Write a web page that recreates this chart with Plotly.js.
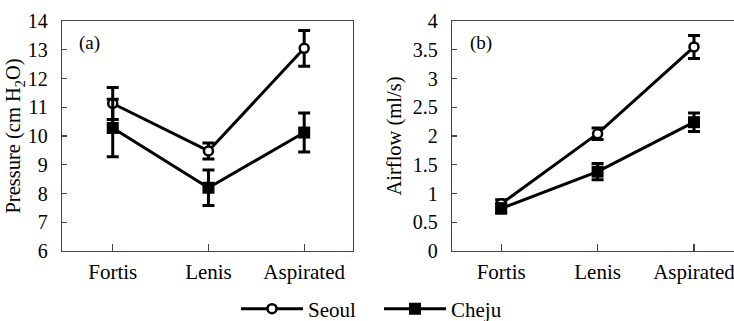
<!DOCTYPE html>
<html>
<head>
<meta charset="utf-8">
<script src="https://cdn.plot.ly/plotly-3.0.1.min.js"></script>
<style>html,body{margin:0;padding:0;background:#fff}#chart{width:734px;height:321px}</style>
</head>
<body>
<div id="chart"></div>
<script>
const categories = ["Fortis", "Lenis", "Aspirated"];
const seoulPressure = [11.13, 9.48, 13.05];
const seoulPressureErr = [0.56, 0.28, 0.62];
const chejuPressure = [10.28, 8.2, 10.12];
const chejuPressureErr = [1.0, 0.62, 0.68];
const seoulAirflow = [0.82, 2.04, 3.55];
const seoulAirflowErr = [0.07, 0.1, 0.2];
const chejuAirflow = [0.74, 1.38, 2.24];
const chejuAirflowErr = [0.08, 0.14, 0.16];
const seriesNames = ["Seoul", "Cheju"];
const panelLabels = ["(a)", "(b)"];

const FONT = "Liberation Serif, Times New Roman, serif";
const seoulStyle = {
  mode: "lines+markers",
  line: {color: "#000", width: 3},
  marker: {symbol: "circle", size: 9, color: "#fff", line: {color: "#000", width: 2.5}}
};
const chejuStyle = {
  mode: "lines+markers",
  line: {color: "#000", width: 3},
  marker: {symbol: "square", size: 12, color: "#000", line: {color: "#000", width: 0}}
};
function err(arr) {
  return {type: "data", array: arr, visible: true, color: "#000", thickness: 3, width: 6};
}
const traces = [
  Object.assign({x: categories, y: seoulPressure, error_y: err(seoulPressureErr), name: seriesNames[0], xaxis: "x", yaxis: "y", legendgroup: "s"}, seoulStyle),
  Object.assign({x: categories, y: chejuPressure, error_y: err(chejuPressureErr), name: seriesNames[1], xaxis: "x", yaxis: "y", legendgroup: "c"}, chejuStyle),
  Object.assign({x: categories, y: seoulAirflow, error_y: err(seoulAirflowErr), name: seriesNames[0], xaxis: "x2", yaxis: "y2", showlegend: false}, seoulStyle),
  Object.assign({x: categories, y: chejuAirflow, error_y: err(chejuAirflowErr), name: seriesNames[1], xaxis: "x2", yaxis: "y2", showlegend: false}, chejuStyle)
];

const W = 734, H = 321;
const yDom = [1 - 251 / H, 1 - 21 / H];
const axisLine = {showline: true, linecolor: "#444", linewidth: 1.2, showgrid: false, zeroline: false};
const xCommon = Object.assign({}, axisLine, {
  type: "category", ticks: "inside", ticklen: 7, tickwidth: 1.2, tickcolor: "#444",
  tickfont: {family: FONT, size: 21, color: "#000"}, ticklabelstandoff: 2, mirror: true
});
const yCommon = Object.assign({}, axisLine, {
  ticks: "inside", ticklen: 5, tickwidth: 1.2, tickcolor: "#444",
  tickfont: {family: FONT, size: 20, color: "#000"}, ticklabelstandoff: 9
});

const layout = {
  width: W, height: H,
  margin: {l: 0, r: 0, t: 0, b: 0, autoexpand: false},
  paper_bgcolor: "#fff", plot_bgcolor: "#fff",
  showlegend: true,
  xaxis: Object.assign({}, xCommon, {domain: [62 / W, 353 / W], range: [-0.53, 2.51], anchor: "y"}),
  yaxis: Object.assign({}, yCommon, {domain: yDom, range: [6, 14], dtick: 1, mirror: true, anchor: "x",
    title: {text: "Pressure (cm H<sub>2</sub>O)", font: {family: FONT, size: 20.5, color: "#000"}, standoff: 1}}),
  xaxis2: Object.assign({}, xCommon, {domain: [452 / W, 1], range: [-0.51, 2.415], anchor: "y2"}),
  yaxis2: Object.assign({}, yCommon, {domain: yDom, range: [0, 4], dtick: 0.5, mirror: false, anchor: "x2",
    title: {text: "Airflow (ml/s)", font: {family: FONT, size: 20.5, color: "#000"}, standoff: 5}}),
  legend: {
    orientation: "h", x: 236 / W, xanchor: "left", y: 1 - 309 / H, yanchor: "middle",
    yref: "paper", font: {family: FONT, size: 21, color: "#000"}, bgcolor: "rgba(0,0,0,0)",
    itemwidth: 62, entrywidth: 66, tracegroupgap: 0
  },
  annotations: [
    {text: panelLabels[0], xref: "paper", yref: "paper", x: 77 / W, y: 1 - 43 / H, xanchor: "left", yanchor: "middle", showarrow: false, font: {family: FONT, size: 19, color: "#000"}},
    {text: panelLabels[1], xref: "paper", yref: "paper", x: 468 / W, y: 1 - 43 / H, xanchor: "left", yanchor: "middle", showarrow: false, font: {family: FONT, size: 19, color: "#000"}}
  ]
};
Plotly.newPlot("chart", traces, layout, {staticPlot: true, displayModeBar: false});
</script>
</body>
</html>
